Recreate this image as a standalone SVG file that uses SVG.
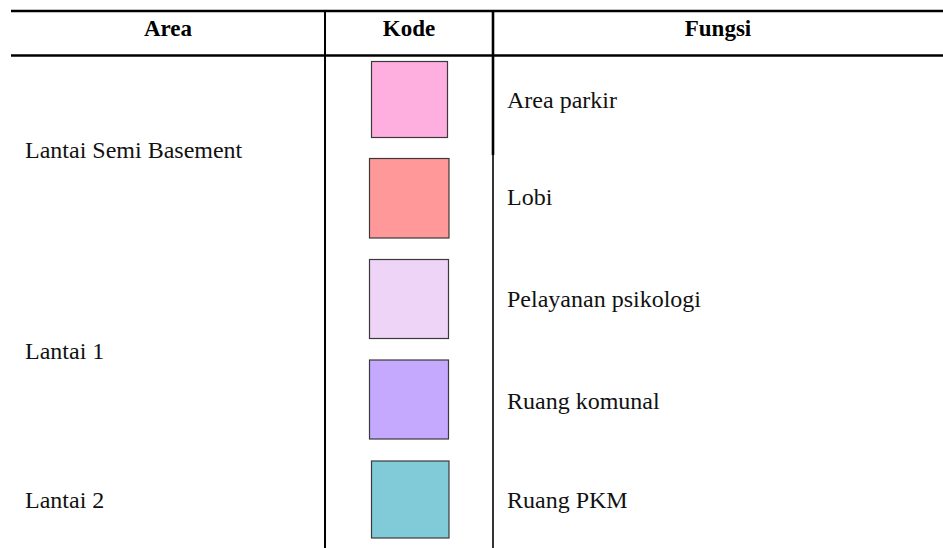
<svg xmlns="http://www.w3.org/2000/svg" width="943" height="548" viewBox="0 0 943 548">
<style>
.hd{font-family:"Liberation Serif","Times New Roman",serif;font-size:23px;font-weight:bold;fill:#000;text-anchor:middle}
.tx{font-family:"Liberation Serif","Times New Roman",serif;font-size:24px;fill:#111}
.sw{stroke:#3a3a3a;stroke-width:1.2}
.ln{stroke:#000;fill:none}
</style>
<rect width="943" height="548" fill="#fff"/>
<g id="connectors">
<line class="ln" x1="11" y1="11" x2="943" y2="11" stroke-width="2.4"/>
<line class="ln" x1="11" y1="55.5" x2="943" y2="55.5" stroke-width="2.6"/>
<line class="ln" x1="325" y1="10" x2="325" y2="548" stroke-width="2"/>
<line class="ln" x1="493" y1="10" x2="493" y2="155" stroke-width="2.6"/>
<line class="ln" x1="493" y1="155" x2="493" y2="548" stroke-width="1.6"/>
</g>
<g id="header">
<text class="hd" x="168" y="36">Area</text>
<text class="hd" x="409" y="36">Kode</text>
<text class="hd" x="718" y="36">Fungsi</text>
</g>
<g id="area-semi-basement"><text class="tx" x="25" y="158">Lantai Semi Basement</text></g>
<g id="area-lantai1"><text class="tx" x="25" y="359">Lantai 1</text></g>
<g id="area-lantai2"><text class="tx" x="25" y="508">Lantai 2</text></g>
<g id="row-parkir">
<rect class="sw" x="371.5" y="61.5" width="76" height="76" fill="#FFAEE0"/>
<text class="tx" x="507" y="108">Area parkir</text>
</g>
<g id="row-lobi">
<rect class="sw" x="369.5" y="158.5" width="79.5" height="79.5" fill="#FF9999"/>
<text class="tx" x="507" y="205">Lobi</text>
</g>
<g id="row-psikologi">
<rect class="sw" x="369.5" y="259.5" width="79" height="79" fill="#EED4F6"/>
<text class="tx" x="507" y="307">Pelayanan psikologi</text>
</g>
<g id="row-komunal">
<rect class="sw" x="369.5" y="360" width="79" height="79" fill="#C4A9FF"/>
<text class="tx" x="507" y="409">Ruang komunal</text>
</g>
<g id="row-pkm">
<rect class="sw" x="371.5" y="461" width="77.5" height="77" fill="#80CBD7"/>
<text class="tx" x="507" y="508">Ruang PKM</text>
</g>
</svg>
